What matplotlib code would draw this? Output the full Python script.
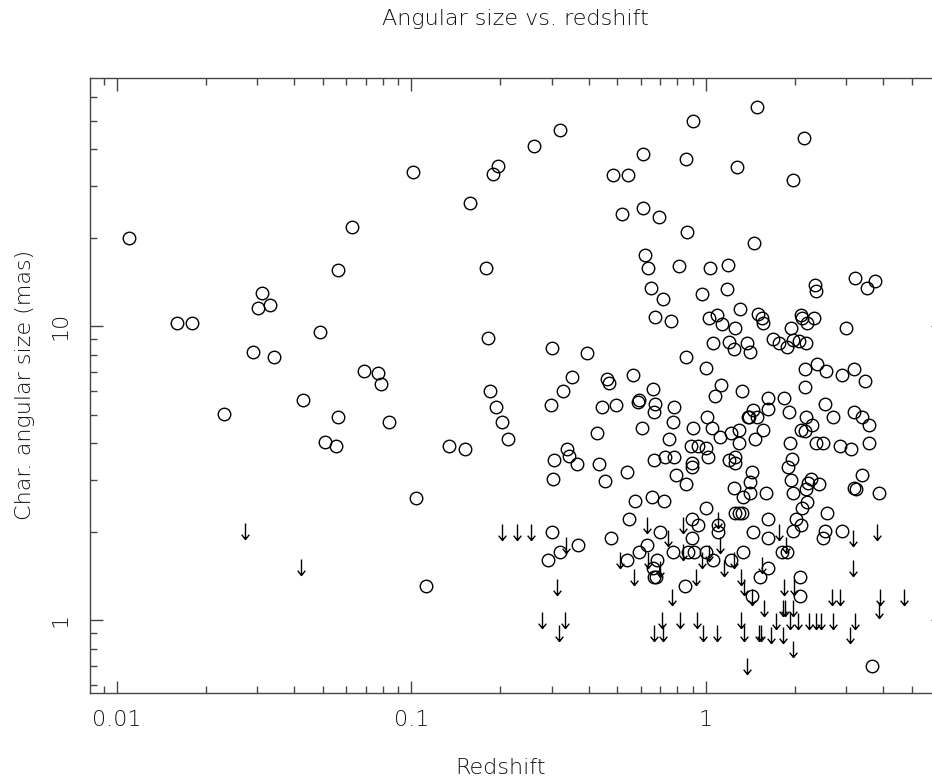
import matplotlib
matplotlib.use("Agg")
import numpy as np
from matplotlib import pyplot as plt
from matplotlib.path import Path

# measured sizes (circles)
z_det = [
    0.011, 0.016, 0.018, 0.0231, 0.0311, 0.0301, 0.0331, 0.029, 0.0341, 0.0489,
    0.0428, 0.0509, 0.0554, 0.0563, 0.0563, 0.0628, 0.069, 0.0769, 0.0788, 0.0839,
    0.1012, 0.1036, 0.112, 0.1341, 0.1519, 0.158, 0.179, 0.1819, 0.1891, 0.1966,
    0.2606, 0.3192, 0.1848, 0.1936, 0.2029, 0.2127, 0.300, 0.2977, 0.3047, 0.3023,
    0.3269, 0.3507, 0.3944, 0.3373, 0.3426, 0.3648, 0.300, 0.3192, 0.2906, 0.3676,
    0.454, 0.4331, 0.4264, 0.4434, 0.4948, 0.4612, 0.4685, 0.5652, 0.5393, 0.5741,
    0.6557, 0.7201, 0.5479, 0.4759, 0.6978, 0.6302, 0.5922, 0.5393, 0.6816, 0.6607,
    0.6659, 0.6764, 0.8554, 0.7908, 0.7726, 0.8686, 0.9105, 0.8486, 0.8963, 0.9393,
    0.8963, 1.0, 1.0, 1.056, 1.098, 1.098, 1.216, 1.336, 1.444, 1.245,
    1.411, 1.336, 1.411, 1.254, 1.294, 1.325, 1.433, 1.525, 1.624, 2.085,
    2.085, 1.812, 1.884, 1.624, 1.974, 2.536, 2.496, 2.895, 1.624, 2.021,
    2.102, 2.576, 2.203, 2.118, 1.598, 1.974, 3.868, 2.273, 2.419, 2.221,
    2.186, 1.959, 1.898, 1.433, 1.944, 3.386, 3.18, 3.22, 1.197, 1.254,
    1.254, 0.8963, 0.8963, 0.6659, 0.7257, 0.7786, 0.8894, 0.9393, 1.0, 1.016,
    0.7484, 1.116, 1.216, 1.294, 1.294, 1.467, 1.561, 1.929, 2.363, 2.496,
    2.851, 3.107, 3.577, 2.102, 2.169, 2.186, 2.291, 1.913, 1.624, 1.444,
    1.400, 1.490, 2.536, 2.70, 3.18, 3.386, 3.577, 1.624, 1.840, 2.169,
    1.325, 2.169, 2.382, 2.556, 2.895, 3.18, 3.467, 1.378, 1.411, 1.689,
    1.769, 1.884, 1.974, 2.069, 2.186, 1.944, 2.988, 1.502, 1.549, 1.561,
    2.102, 2.118, 2.203, 2.327, 1.133, 1.254, 1.024, 1.090, 0.671, 0.7606,
    1.056, 1.197, 1.245, 0.8554, 1.0, 1.124, 1.073, 0.6607, 0.5922, 0.5876,
    0.671, 0.6659, 0.7786, 0.7726, 0.6062, 0.9033, 1.008, 1.048, 1.389,
    1.490, 2.151, 1.974, 1.455, 2.345, 2.363, 3.205, 3.749, 3.522, 0.9033,
    0.611, 0.8554, 0.4833, 0.5434, 1.274, 0.5185, 0.611, 0.6924, 0.862, 0.6207,
    0.6354, 0.8096, 1.032, 1.188, 0.6505, 0.7145, 0.969, 1.178, 1.304, 3.661,
]
size_det = [
    19.9, 10.24, 10.24, 5.02, 12.95, 11.51, 11.79, 8.16, 7.85, 9.54,
    5.60, 4.03, 3.91, 4.90, 15.5, 21.7, 7.03, 6.92, 6.35, 4.72,
    33.4, 2.60, 1.305, 3.91, 3.82, 26.2, 15.75, 9.10, 32.9, 35.0,
    40.9, 46.4, 6.01, 5.30, 4.72, 4.13, 8.42, 5.39, 3.50, 3.02,
    6.01, 6.71, 8.09, 3.82, 3.61, 3.39, 1.99, 1.70, 1.60, 1.80,
    2.97, 3.39, 4.33, 5.30, 5.39, 6.60, 6.40, 6.81, 3.19, 2.54,
    2.62, 2.54, 2.21, 1.90, 1.99, 1.80, 1.70, 1.60, 1.60, 1.50,
    1.40, 1.40, 2.90, 3.11, 1.70, 1.70, 1.70, 1.305, 2.21, 2.10,
    1.90, 2.40, 1.70, 1.60, 2.10, 1.99, 1.60, 1.70, 1.99, 2.81,
    2.95, 2.62, 2.70, 2.31, 2.31, 2.31, 1.21, 1.40, 1.50, 1.40,
    1.21, 1.70, 1.70, 1.90, 2.01, 2.01, 1.90, 2.01, 2.21, 2.21,
    2.10, 2.31, 2.52, 2.40, 2.70, 2.70, 2.70, 3.02, 2.90, 2.92,
    2.79, 3.53, 3.31, 3.19, 2.99, 3.11, 2.81, 2.79, 3.50, 3.58,
    3.42, 3.42, 3.31, 3.50, 3.58, 3.58, 3.91, 3.91, 3.85, 3.58,
    4.13, 4.19, 4.33, 4.43, 4.00, 4.13, 4.43, 4.00, 4.00, 4.00,
    3.91, 3.82, 4.00, 4.43, 4.39, 4.90, 4.61, 5.10, 5.22, 5.18,
    4.90, 4.90, 5.43, 4.90, 5.10, 4.90, 4.61, 5.69, 5.69, 6.20,
    6.01, 7.14, 7.42, 7.03, 6.81, 7.14, 6.50, 8.75, 8.16, 9.03,
    8.75, 8.48, 8.96, 8.89, 8.75, 9.84, 9.84, 10.99, 10.65, 10.24,
    10.90, 10.65, 10.24, 10.65, 10.16, 9.84, 10.65, 10.90, 10.73, 10.40,
    8.75, 8.82, 8.35, 7.85, 7.20, 6.30, 5.78, 6.11, 5.60, 5.51,
    5.43, 5.10, 5.30, 4.72, 4.50, 4.50, 4.90, 4.50, 4.90,
    55.6, 43.6, 31.4, 19.15, 13.79, 13.15, 14.57, 14.23, 13.47, 49.8,
    38.5, 37.0, 32.6, 32.6, 34.7, 24.0, 25.2, 23.5, 20.9, 17.4,
    15.75, 16.0, 15.75, 16.1, 13.47, 12.36, 12.85, 13.36, 11.42, 0.697,
]

# upper limits (arrows)
z_lim = [
    0.0272, 0.0421, 0.2029, 0.2281, 0.2545, 0.3347, 0.3119, 0.2773, 0.3321, 0.3168,
    0.6302, 0.743, 0.8353, 1.098, 1.116, 0.5105, 0.5697, 0.6354, 0.6978, 0.8353,
    0.9248, 0.969, 1.024, 1.151, 1.245, 1.315, 1.346, 1.433, 0.7666, 0.7088,
    0.8161, 0.9321, 1.315, 0.6659, 0.7145, 0.9768, 1.090, 1.346, 1.514, 1.537,
    1.378, 1.769, 1.869, 3.157, 3.807, 3.157, 1.549, 1.840, 1.990, 2.679,
    2.851, 3.897, 4.703, 3.868, 1.574, 1.826, 1.855, 1.974, 1.729, 1.929,
    2.053, 2.237, 2.363, 2.458, 2.70, 3.205, 1.663, 1.826, 3.083, 1.974,
]
size_lim = [
    2.01, 1.51, 1.99, 1.99, 1.99, 1.80, 1.295, 1.0, 1.0, 0.903,
    2.10, 1.90, 2.10, 2.19, 1.80, 1.60, 1.40, 1.60, 1.49, 1.70,
    1.40, 1.60, 1.69, 1.50, 1.60, 1.40, 1.295, 1.197, 1.197, 1.0,
    1.0, 1.0, 1.0, 0.903, 0.903, 0.903, 0.903, 0.903, 0.903, 0.903,
    0.697, 1.99, 1.80, 1.90, 1.99, 1.50, 1.54, 1.295, 1.295, 1.197,
    1.197, 1.197, 1.197, 1.081, 1.098, 1.098, 1.098, 1.098, 0.99, 0.99,
    0.99, 0.99, 0.99, 0.99, 0.99, 0.99, 0.889, 0.889, 0.889, 0.797,
]

x_ticks = [0.01, 0.1, 1]
x_tick_labels = ["0.01", "0.1", "1"]
y_ticks = [1, 10]
y_tick_labels = ["1", "10"]


def arrow_marker():
    verts = [(0, 0.5), (0, -0.5), (-0.24, -0.2), (0, -0.5), (0.24, -0.2)]
    codes = [Path.MOVETO, Path.LINETO, Path.MOVETO, Path.LINETO, Path.LINETO]
    return Path(verts, codes)


def main():
    plt.rcParams['font.family'] = ['DejaVu Sans']
    plt.rcParams['font.weight'] = 'light'
    plt.rcParams['text.color'] = '#111111'
    axis_col = '#444444'

    fig = plt.figure(figsize=(9.32, 7.82), dpi=100)
    ax = fig.add_axes([0.0966, 0.1138, 0.9152, 0.7864])
    ax.set_xscale('log')
    ax.set_yscale('log')
    ax.set_xlim(0.0081, 6.38)
    ax.set_ylim(0.5646, 69.75)

    ax.plot(z_det, size_det, ls='none', marker='o', ms=9, mfc='none',
            mec='black', mew=1.0)
    ax.plot(z_lim, size_lim, ls='none', marker=arrow_marker(), ms=11.5,
            mfc='none', mec='black', mew=1.0)

    ax.set_xticks(x_ticks)
    ax.set_xticklabels(x_tick_labels)
    ax.set_yticks(y_ticks)
    ax.set_yticklabels(y_tick_labels, rotation=90, va='center')

    ax.tick_params(which='both', direction='in', top=True, right=True,
                   color=axis_col, width=1.0, labelsize=16,
                   labelcolor='#111111')
    ax.tick_params(which='major', length=9)
    ax.tick_params(which='minor', length=5)
    ax.tick_params(axis='x', pad=12)
    ax.tick_params(axis='y', pad=14)
    for sp in ax.spines.values():
        sp.set_color(axis_col)
        sp.set_linewidth(1.0)

    # labels placed in figure coordinates
    fig.text(0.537, 0.018, 'Redshift', fontsize=16, ha='center', va='center')
    fig.text(0.027, 0.508, 'Char. angular size (mas)', fontsize=16,
             rotation=90, ha='center', va='center')
    fig.text(0.553, 0.976, 'Angular size vs. redshift', fontsize=16,
             ha='center', va='center')

    fig.savefig('out.png', dpi=100)


if __name__ in '__main__':
    main()
